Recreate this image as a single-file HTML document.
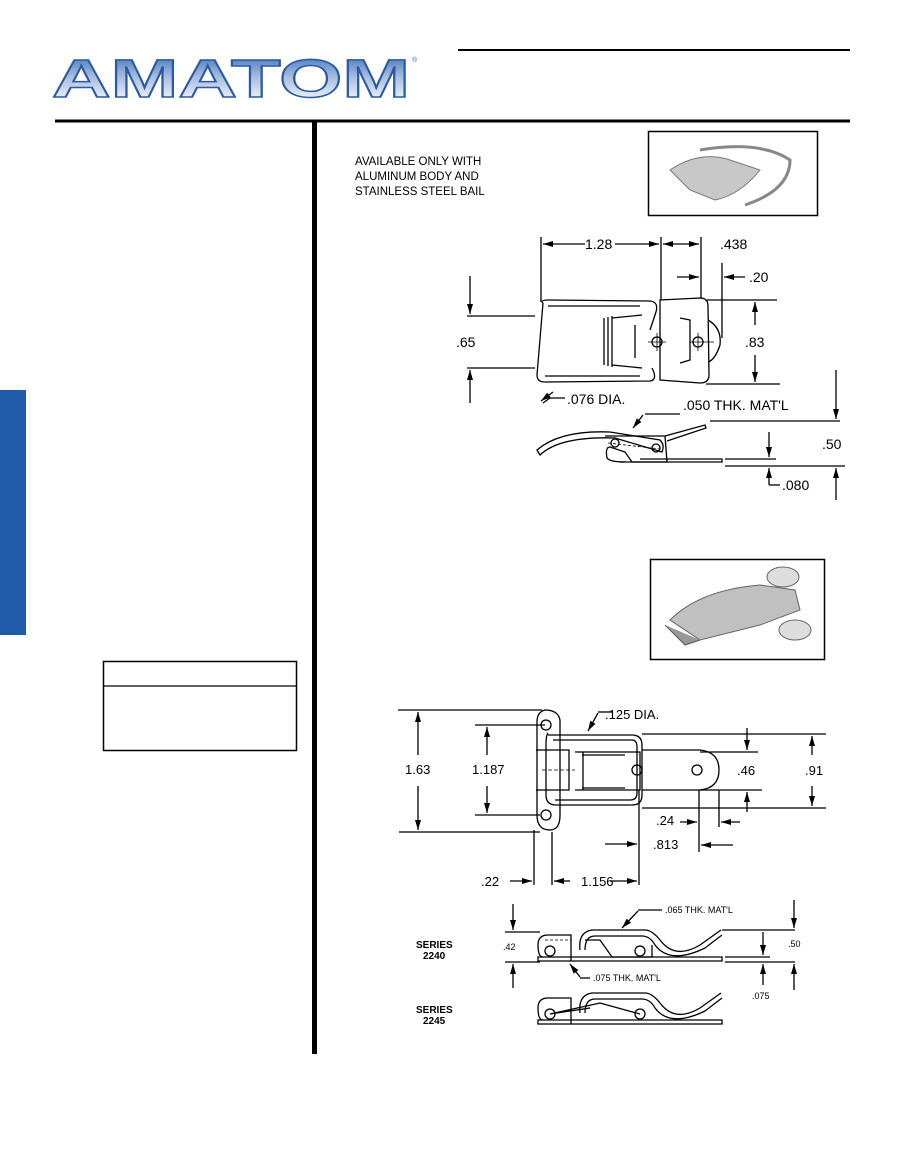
<!DOCTYPE html>
<html><head><style>
html,body{margin:0;padding:0;background:#fff}
svg{display:block}
text{font-family:"Liberation Sans",Arial,sans-serif;fill:#000}
</style></head><body>
<svg width="905" height="1175" viewBox="0 0 905 1175" xmlns="http://www.w3.org/2000/svg">
<defs>
<linearGradient id="lg" gradientUnits="userSpaceOnUse" x1="0" y1="56" x2="0" y2="98">
<stop offset="0" stop-color="#4a7cc0"/><stop offset="0.5" stop-color="#a8bde0"/><stop offset="1" stop-color="#e8eef8"/>
</linearGradient>
<marker id="a" markerWidth="10" markerHeight="6" refX="10" refY="3" orient="auto" markerUnits="userSpaceOnUse"><path d="M0,0 L10,3 L0,6z" fill="#000"/></marker>
</defs>
<!-- logo -->
<text x="52" y="97" font-size="54" font-weight="bold" style="fill:url(#lg)" stroke="#2a5aa0" stroke-width="1.5" textLength="358" lengthAdjust="spacingAndGlyphs">AMATOM</text>
<text x="412" y="62" font-size="7" style="fill:#3a6fb5">®</text>
<line x1="458" y1="50" x2="850" y2="50" stroke="#000" stroke-width="2"/>
<line x1="55" y1="121" x2="850" y2="121" stroke="#000" stroke-width="3"/>
<rect x="312" y="121" width="5" height="933" fill="#000"/>
<rect x="0" y="390" width="26" height="245" fill="#1f5ba8"/>
<rect x="103.5" y="661.5" width="193" height="89" fill="none" stroke="#000" stroke-width="1.5"/>
<line x1="103" y1="686" x2="297" y2="686" stroke="#000" stroke-width="1.2"/>
<!-- text -->
<text x="355" y="165" font-size="11.5">AVAILABLE ONLY WITH</text>
<text x="355" y="180" font-size="11.5">ALUMINUM BODY AND</text>
<text x="355" y="195" font-size="11.5">STAINLESS STEEL BAIL</text>
<!-- photos -->
<rect x="648.5" y="131.5" width="169" height="84" fill="#fff" stroke="#000" stroke-width="1.5"/>
<path d="M670,170 Q700,150 730,160 L760,170 Q740,195 715,200 L690,190 Z" fill="#c8c8c8" stroke="#777"/>
<path d="M700,150 Q760,140 790,160 Q790,190 745,205" fill="none" stroke="#888" stroke-width="3"/>
<rect x="650.5" y="559.5" width="174" height="100" fill="#fff" stroke="#000" stroke-width="1.5"/>
<path d="M670,620 Q700,590 760,585 L795,590 L800,610 L760,625 L700,640 Z" fill="#c0c0c0" stroke="#666"/>
<ellipse cx="783" cy="577" rx="16" ry="10" fill="#ddd" stroke="#666"/>
<ellipse cx="795" cy="630" rx="16" ry="10" fill="#ddd" stroke="#666"/>
<path d="M665,625 L685,645 L700,640" fill="#999" stroke="#555"/>
<g fill="none" stroke="#000" stroke-width="1.3">
<path d="M543,303 Q540,300 548,300 L650,301 Q660,302 655,315 L650,330 M543,303 L537,375 Q537,382 545,382 L650,381 Q658,380 652,368"/>
<path d="M548,306 L640,306 M545,376 L640,376"/>
<path d="M660,300 L700,298 Q708,298 708,306 L709,375 Q709,383 700,383 L660,380 Z"/>
<path d="M604,318 L604,365 M608,317 L608,366 M612,316 L612,367"/>
<path d="M612,318 L642,315 M612,365 L642,368 M635,325 L635,358"/>
<path d="M680,318 L690,320 L690,360 L680,363"/>
<path d="M708,320 Q722,328 720,345 Q715,360 708,362"/>
<circle cx="657" cy="342" r="5"/><circle cx="698" cy="342" r="5"/>
<path d="M648,342 L666,342 M657,333 L657,351 M690,342 L714,342 M698,333 L698,351" stroke-width="0.8"/>
<path d="M541,237 L541,302 M661,237 L661,300 M701,237 L701,298 M722,263 L722,338"/>
<path d="M585,244 L543,244" marker-end="url(#a)"/><path d="M615,244 L659,244" marker-end="url(#a)"/>
<path d="M681,244 L663,244" marker-end="url(#a)"/><path d="M681,244 L699,244" marker-end="url(#a)"/>
<path d="M677,277 L699,277" marker-end="url(#a)"/><path d="M745,277 L724,277" marker-end="url(#a)"/>
<path d="M467,316 L535,316 M467,368 L535,368"/>
<path d="M470,276 L470,314" marker-end="url(#a)"/><path d="M470,403 L470,370" marker-end="url(#a)"/>
<path d="M707,300 L777,300 M706,384 L780,384"/>
<path d="M755,325 L755,302" marker-end="url(#a)"/><path d="M755,355 L755,382" marker-end="url(#a)"/>
<path d="M565,398 L550,398 L543,403" /><path d="M553,392 L541,401" marker-end="url(#a)"/>
<path d="M537,450 Q560,430 610,432 L660,440 Q665,445 662,452 L615,438 Q560,436 540,455 Z"/>
<path d="M605,436 L665,436 L667,462 L632,462 L625,452 L610,447 Q605,447 607,458 Q610,462 625,462"/>
<path d="M665,436 L705,425 L706,428 L667,441"/>
<path d="M620,462 L722,462 L722,459 L640,459"/>
<circle cx="615" cy="443" r="4"/><circle cx="656" cy="448" r="4"/>
<path d="M608,443 L660,449" stroke-dasharray="3,2" stroke-width="0.8"/>
<path d="M710,421 L840,421 M725,459 L776,459 M725,466 L845,466"/>
<path d="M680,414 L645,414" /><path d="M643,415 L633,428" marker-end="url(#a)"/>
<path d="M836,370 L836,419" marker-end="url(#a)"/><path d="M836,500 L836,468" marker-end="url(#a)"/>
<path d="M769,432 L769,457" marker-end="url(#a)"/><path d="M769,485 L769,468" marker-end="url(#a)"/>
<path d="M769,485 L780,485"/>
<path d="M545,710 Q537,712 537,722 L537,815 Q537,830 550,830 Q560,830 560,815 L560,720 Q558,710 545,710Z"/>
<path d="M548,733 Q546,735 546,745 L546,795 Q546,805 556,805 L632,805 Q642,805 642,795 L642,745 Q642,735 632,735 L556,735 Q550,735 548,735"/>
<path d="M553,740 L632,740 Q637,740 637,747 L637,793 Q637,800 630,800 L555,800"/>
<path d="M536,750 L569,750 L569,790 L536,790 M575,752 L640,752 L640,790 L575,790"/>
<path d="M582,755 L625,755 M582,788 L625,788 M583,752 L583,790" />
<path d="M642,750 L700,750 Q719,752 719,770 Q719,788 700,790 L642,790"/>
<circle cx="546" cy="725" r="5"/><circle cx="546" cy="815" r="5"/><circle cx="637" cy="770" r="5"/><circle cx="697" cy="770" r="5"/>
<path d="M542,770 L575,770" stroke-dasharray="4,2" stroke-width="0.8"/>
<path d="M398,710 L542,710 M399,832 L540,832 M475,725 L545,725 M475,815 L540,815"/>
<path d="M418,755 L418,712" marker-end="url(#a)"/><path d="M418,786 L418,830" marker-end="url(#a)"/>
<path d="M487,755 L487,727" marker-end="url(#a)"/><path d="M487,786 L487,813" marker-end="url(#a)"/>
<path d="M642,734 L826,734 M642,808 L826,808 M700,752 L758,752 M700,790 L762,790"/>
<path d="M747,728 L747,750" marker-end="url(#a)"/><path d="M747,812 L747,792" marker-end="url(#a)"/>
<path d="M812,755 L812,736" marker-end="url(#a)"/><path d="M812,786 L812,806" marker-end="url(#a)"/>
<path d="M534,830 L534,885 M552,832 L552,885 M639,790 L639,885 M699,790 L699,852 M719,790 L719,827"/>
<path d="M510,881 L532,881" marker-end="url(#a)"/><path d="M570,881 L554,881" marker-end="url(#a)"/><path d="M610,881 L637,881" marker-end="url(#a)"/>
<path d="M605,844 L637,844" marker-end="url(#a)"/>
<path d="M680,822 L697,822" marker-end="url(#a)"/><path d="M740,822 L721,822" marker-end="url(#a)"/>
<path d="M733,845 L701,845" marker-end="url(#a)"/>
<path d="M612,712 L598,712"/><path d="M598,713 L588,731" marker-end="url(#a)"/>
<path d="M538,957 L722,957 L722,961 L538,961 Z"/>
<path d="M543,957 Q538,957 538,945 Q538,935 548,935 L571,935 L571,961"/>
<path d="M580,950 Q578,932 592,930 L645,930 Q652,930 660,940 Q675,960 700,945 L721,930"/>
<path d="M585,950 Q585,936 595,936 L642,936 Q650,936 655,945 Q670,965 705,948 L722,935"/>
<path d="M585,940 L600,940 L612,957 L652,957 L652,945"/>
<circle cx="550" cy="951" r="5"/><circle cx="640" cy="951" r="5"/>
<path d="M545,940 L571,940" stroke-dasharray="3,2" stroke-width="0.8"/>
<path d="M505,932 L540,932 M505,962 L540,962 M722,930 L795,930 M725,957 L770,957 M725,962 L795,962"/>
<path d="M513,904 L513,930" marker-end="url(#a)"/><path d="M513,988 L513,964" marker-end="url(#a)"/>
<path d="M794,900 L794,928" marker-end="url(#a)"/><path d="M794,990 L794,964" marker-end="url(#a)"/>
<path d="M763,932 L763,955" marker-end="url(#a)"/><path d="M763,985 L763,964" marker-end="url(#a)"/>
<path d="M662,910 L638,910"/><path d="M638,911 L622,928" marker-end="url(#a)"/>
<path d="M590,978 L580,978"/><path d="M580,977 L570,964" marker-end="url(#a)"/>
<path d="M538,1020 L722,1020 L722,1024 L538,1024 Z"/>
<path d="M543,1020 Q538,1020 538,1008 Q538,998 548,998 L571,998 L571,1024"/>
<path d="M580,1013 Q578,995 592,993 L645,993 Q652,993 660,1003 Q675,1023 700,1008 L721,993"/>
<path d="M585,1013 Q585,999 595,999 L642,999 Q650,999 655,1008 Q670,1028 705,1011 L722,998"/>
<path d="M550,1014 L600,1003 L640,1014 M550,1014 L590,1008"/>
<circle cx="550" cy="1014" r="5"/><circle cx="640" cy="1014" r="5"/>
</g>
<text x="585" y="249" font-size="14">1.28</text>
<text x="720" y="249" font-size="14">.438</text>
<text x="749" y="282" font-size="14">.20</text>
<text x="456" y="347" font-size="14">.65</text>
<text x="745" y="347" font-size="14">.83</text>
<text x="567" y="404" font-size="14">.076 DIA.</text>
<text x="683" y="410" font-size="14">.050 THK. MAT'L</text>
<text x="822" y="449" font-size="14">.50</text>
<text x="782" y="490" font-size="14">.080</text>
<text x="605" y="719" font-size="13">.125 DIA.</text>
<text x="405" y="774" font-size="13">1.63</text>
<text x="472" y="774" font-size="13">1.187</text>
<text x="737" y="775" font-size="13">.46</text>
<text x="805" y="775" font-size="13">.91</text>
<text x="656" y="825" font-size="13">.24</text>
<text x="653" y="849" font-size="13">.813</text>
<text x="481" y="886" font-size="13">.22</text>
<text x="581" y="886" font-size="13">1.156</text>
<text x="665" y="913" font-size="9">.065 THK. MAT'L</text>
<text x="593" y="981" font-size="9">.075 THK. MAT'L</text>
<text x="503" y="950" font-size="9">.42</text>
<text x="788" y="947" font-size="9">.50</text>
<text x="752" y="999" font-size="9">.075</text>
<text x="416" y="948" font-size="10" font-weight="bold">SERIES</text>
<text x="423" y="959" font-size="10" font-weight="bold">2240</text>
<text x="416" y="1013" font-size="10" font-weight="bold">SERIES</text>
<text x="423" y="1024" font-size="10" font-weight="bold">2245</text>
</svg>
</body></html>
